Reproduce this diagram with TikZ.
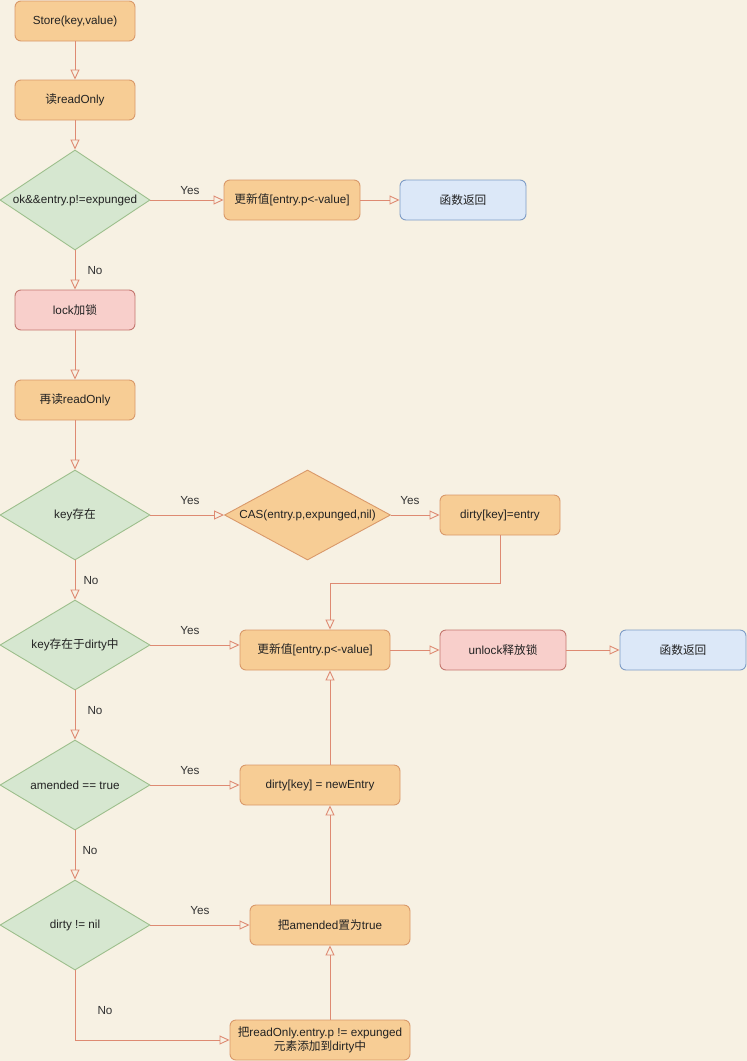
\documentclass[tikz,border=0pt]{standalone}
\usepackage{fontspec}
\setmainfont{Liberation Sans}
\newfontfamily\cjk{Noto Sans CJK SC}
\usetikzlibrary{shapes.geometric,arrows.meta}
\definecolor{bg}{HTML}{F7F1E3}
\definecolor{ofill}{HTML}{F7CD95}
\definecolor{ostroke}{HTML}{D9996A}
\definecolor{gfill}{HTML}{D6E7D0}
\definecolor{gstroke}{HTML}{9DBF8C}
\definecolor{rfill}{HTML}{F8CFCB}
\definecolor{rstroke}{HTML}{C4776F}
\definecolor{bfill}{HTML}{DCE8F8}
\definecolor{bstroke}{HTML}{7E9CC6}
\definecolor{lc}{HTML}{DE8A72}
\definecolor{txt}{HTML}{222222}
\definecolor{labc}{HTML}{333333}
\newcommand{\zh}[1]{{\cjk #1}}
\tikzset{
  fnt/.style={font=\fontsize{11.7}{14}\selectfont},
  base/.style={fnt, rounded corners=6pt, line width=0.9pt, minimum height=40pt, inner sep=2pt, text=txt},
  obox/.style={base, draw=ostroke, fill=ofill},
  rbox/.style={base, draw=rstroke, fill=rfill},
  bbox/.style={base, draw=bstroke, fill=bfill},
  gdia/.style={fnt, diamond, draw=gstroke, fill=gfill, line width=0.9pt, minimum width=150pt, minimum height=90pt, inner sep=0pt, text=txt},
  odia/.style={gdia, draw=ostroke, fill=ofill},
  conn/.style={draw=lc, line width=0.9pt, -{Triangle[open,length=10pt,width=9pt]}},
  lab/.style={fnt, text=labc, inner sep=0pt}
}
\begin{document}
\begin{tikzpicture}[x=1pt,y=-1pt]
\fill[bg] (0,0) rectangle (747,1061);
\useasboundingbox (0,0) rectangle (747,1061);

\node[obox, minimum width=120pt] (store) at (75,21) {Store(key,value)};
\node[obox, minimum width=120pt] (read1) at (75,100) {\zh{读}readOnly};
\node[gdia, minimum height=100pt] (d1) at (75,200) {\makebox[0pt]{ok\&\&entry.p!=expunged}};
\node[obox, minimum width=136pt] (u1) at (292,200) {\zh{更新值}[entry.p<-value]};
\node[bbox, minimum width=126pt] (ret1) at (463,200) {\zh{函数返回}};
\node[rbox, minimum width=120pt] (lock) at (75,310) {lock\zh{加锁}};
\node[obox, minimum width=120pt] (read2) at (75,400) {\zh{再读}readOnly};
\node[gdia] (d2) at (75,515) {\makebox[0pt]{key\zh{存在}}};
\node[odia, minimum width=166pt] (cas) at (307.5,515) {\makebox[0pt]{CAS(entry.p,expunged,nil)}};
\node[obox, minimum width=120pt] (de) at (500,515) {dirty[key]=entry};
\node[gdia] (d3) at (75,645) {\makebox[0pt]{key\zh{存在于}dirty\zh{中}}};
\node[obox, minimum width=150pt] (u2) at (315,650) {\zh{更新值}[entry.p<-value]};
\node[rbox, minimum width=126pt] (unlock) at (503,650) {unlock\zh{释放锁}};
\node[bbox, minimum width=126pt] (ret2) at (683,650) {\zh{函数返回}};
\node[gdia] (d4) at (75,785) {\makebox[0pt]{amended == true}};
\node[obox, minimum width=160pt] (ne) at (320,785) {dirty[key] = newEntry};
\node[gdia] (d5) at (75,925) {\makebox[0pt]{dirty != nil}};
\node[obox, minimum width=160pt] (am) at (330,925) {\zh{把}amended\zh{置为}true};
\node[obox, minimum width=180pt, align=center, inner sep=1pt] (ro) at (320,1040) {\zh{把}readOnly.entry.p != expunged\\\zh{元素添加到}dirty\zh{中}};

\coordinate (j1) at (330,583);

\draw[conn] (store) -- (read1);
\draw[conn] (read1) -- (d1);
\draw[conn] (d1.east) -- (u1.west);
\draw[conn] (u1) -- (ret1);
\draw[conn] (d1) -- (lock);
\draw[conn] (lock) -- (read2);
\draw[conn] (read2) -- (d2);
\draw[conn] (d2.east) -- (cas.west);
\draw[conn] (cas.east) -- (de.west);
\draw[conn] (de.south) |- (j1) -- (u2.north -| j1);
\draw[conn] (d2) -- (d3);
\draw[conn] (d3.east) -- (u2.west |- d3.east);
\draw[conn] (u2) -- (unlock);
\draw[conn] (unlock) -- (ret2);
\draw[conn] (d3) -- (d4);
\draw[conn] (d4.east) -- (ne.west);
\draw[conn] (ne.north -| j1) -- (u2.south -| j1);
\draw[conn] (d4) -- (d5);
\draw[conn] (d5.east) -- (am.west);
\draw[conn] (am.north -| j1) -- (ne.south -| j1);
\draw[conn] (d5.south) |- (ro.west);
\draw[conn] (ro.north -| j1) -- (am.south -| j1);

\node[lab] (y1) at (190,191) {Yes};
\node[lab] (n1) at (95,271) {No};
\node[lab] (y2) at (190,501) {Yes};
\node[lab] (y3) at (410,501) {Yes};
\node[lab] (n2) at (91,581) {No};
\node[lab] (y4) at (190,631) {Yes};
\node[lab] (n3) at (95,711) {No};
\node[lab] (y5) at (190,771) {Yes};
\node[lab] (n4) at (90,851) {No};
\node[lab] (y6) at (200,911) {Yes};
\node[lab] (n5) at (105,1011) {No};
\end{tikzpicture}
\end{document}
